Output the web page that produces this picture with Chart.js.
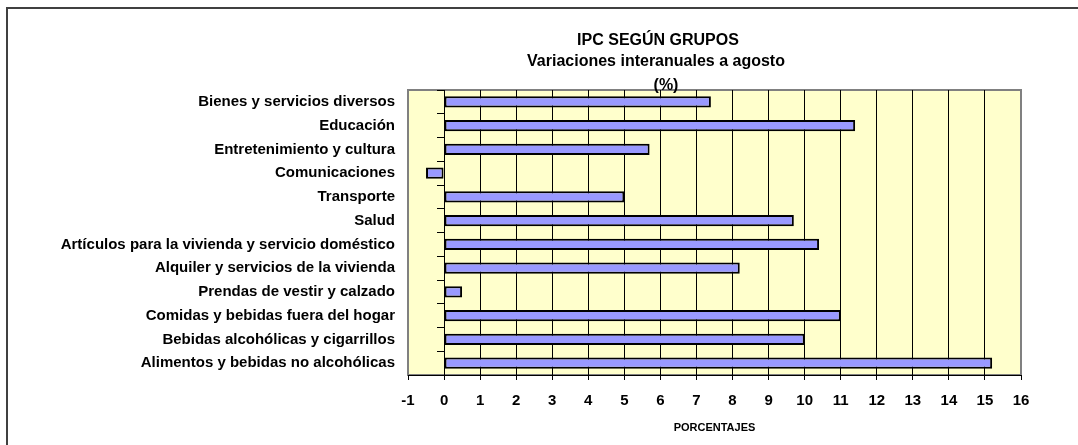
<!DOCTYPE html>
<html>
<head>
<meta charset="utf-8">
<title>IPC según grupos</title>
<script src="https://cdn.jsdelivr.net/npm/chart.js@4.4.1/dist/chart.umd.min.js"></script>
<style>
  body { margin: 0; background: #fff; }
  #wrap { position: relative; width: 1078px; height: 445px; }
</style>
</head>
<body>
<div id="wrap"><canvas id="chart"></canvas></div>
<script>
// groups, listed top to bottom
const groups = [
  'Bienes y servicios diversos',
  'Educación',
  'Entretenimiento y cultura',
  'Comunicaciones',
  'Transporte',
  'Salud',
  'Artículos para la vivienda y servicio doméstico',
  'Alquiler y servicios de la vivienda',
  'Prendas de vestir y calzado',
  'Comidas y bebidas fuera del hogar',
  'Bebidas alcohólicas y cigarrillos',
  'Alimentos y bebidas no alcohólicas'
];

// year-on-year change to August, %
const variation = [7.4, 11.4, 5.7, -0.5, 5.0, 9.7, 10.4, 8.2, 0.5, 11.0, 10.0, 15.2];

const titleLines = ['IPC SEGÚN GRUPOS', 'Variaciones interanuales a agosto', '(%)'];
const xTitle = 'PORCENTAJES';
const xMin = -1;
const xMax = 16;

const FONT = "'Liberation Sans', Arial, sans-serif";

// yellow plot area with a grey frame, plus the outer chart frame
const plotBackground = {
  id: 'plotBackground',
  beforeDraw(chart) {
    const { ctx, chartArea: a } = chart;
    ctx.save();
    ctx.fillStyle = '#ffffcc';
    ctx.fillRect(a.left, a.top, a.right - a.left, a.bottom - a.top);
    ctx.strokeStyle = '#808080';
    ctx.lineWidth = 2;
    ctx.strokeRect(a.left, a.top, a.right - a.left, a.bottom - a.top);
    ctx.strokeStyle = '#404040';
    ctx.strokeRect(7, 8, 2000, 2000);
    ctx.restore();
  }
};

// three-line title, Excel style
const titleBlock = {
  id: 'titleBlock',
  afterDraw(chart) {
    const ctx = chart.ctx;
    const pos = [[658, 41], [656, 62], [666, 86]];
    ctx.save();
    ctx.font = 'bold 16px ' + FONT;
    ctx.fillStyle = '#000';
    ctx.textAlign = 'center';
    ctx.textBaseline = 'middle';
    titleLines.forEach((t, i) => ctx.fillText(t, pos[i][0], pos[i][1]));
    ctx.restore();
  }
};

new Chart(document.getElementById('chart'), {
  type: 'bar',
  data: {
    labels: groups,
    datasets: [{
      data: variation,
      backgroundColor: '#9999ff',
      borderColor: '#000',
      borderWidth: 2,
      borderSkipped: false,
      categoryPercentage: 1,
      barPercentage: 0.47
    }]
  },
  options: {
    indexAxis: 'y',
    responsive: true,
    maintainAspectRatio: false,
    animation: false,
    layout: { padding: { top: 90, right: 57, left: 0, bottom: 0 } },
    plugins: {
      legend: { display: false },
      tooltip: { enabled: false }
    },
    scales: {
      x: {
        min: xMin,
        max: xMax,
        ticks: {
          stepSize: 1,
          color: '#000',
          padding: 12,
          font: { family: FONT, size: 15, weight: 'bold' }
        },
        grid: {
          color: c => (c.tick && (c.tick.value === xMin || c.tick.value === xMax)) ? 'rgba(0,0,0,0)' : '#000',
          tickColor: '#000',
          tickLength: 5,
          lineWidth: 1
        },
        border: { color: '#000', width: 1 },
        title: {
          display: true,
          text: xTitle,
          color: '#000',
          padding: { top: 0, bottom: 10 },
          font: { family: FONT, size: 11, weight: 'bold' }
        },
        afterFit(scale) { scale.height = 70; }
      },
      y: {
        position: 'left',
        grid: { display: false, drawTicks: false },
        border: { display: false },
        ticks: {
          color: '#000',
          padding: 13,
          autoSkip: false,
          font: { family: FONT, size: 15, weight: 'bold' }
        },
        afterFit(scale) { scale.width = 408; }
      },
      // value axis line at zero with tick marks between groups
      y0: {
        type: 'category',
        labels: groups,
        position: { x: 0 },
        offset: true,
        grid: {
          offset: true,
          drawOnChartArea: false,
          color: '#000',
          tickLength: 7
        },
        border: { display: true, color: '#000', width: 1 },
        ticks: { display: false }
      }
    }
  },
  plugins: [plotBackground, titleBlock]
});
</script>
</body>
</html>
